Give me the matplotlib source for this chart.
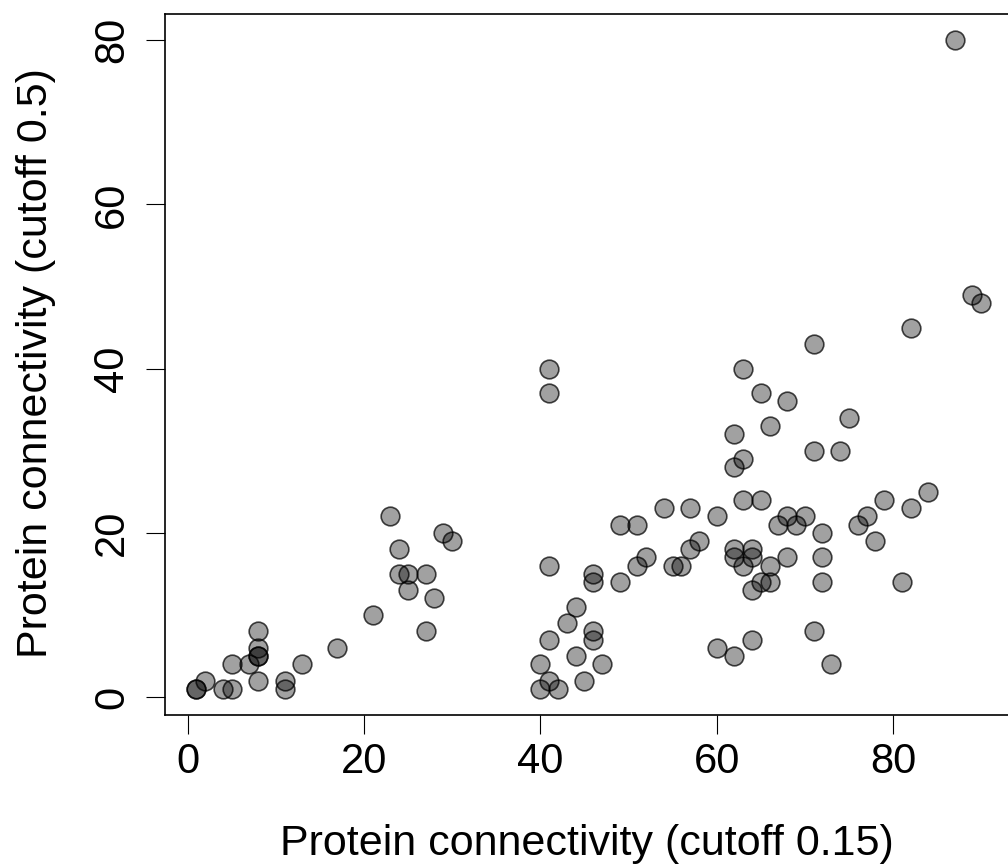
import matplotlib
matplotlib.use("Agg")
import matplotlib.pyplot as plt

plt.rcParams['font.family'] = ['Liberation Sans', 'DejaVu Sans']

x_cut015 = [1, 1, 2, 4, 5, 5, 7, 8, 8, 8, 8, 8, 11, 11, 13, 17, 21, 23, 24, 24,
            25, 25, 27, 28, 27, 29, 30, 40, 40, 41, 41, 41, 41, 41, 42, 43, 44, 44,
            45, 46, 46, 46, 46, 47, 49, 49, 51, 51, 52, 54, 55, 56, 57, 57, 58, 60,
            60, 62, 62, 62, 62, 62, 63, 63, 63, 63, 64, 64, 64, 64, 65, 65, 65, 66,
            66, 66, 67, 68, 68, 68, 69, 70, 71, 71, 71, 72, 72, 72, 73, 74, 75, 76,
            77, 78, 79, 81, 82, 82, 84, 87, 89, 90]
y_cut05 = [1, 1, 2, 1, 1, 4, 4, 8, 6, 5, 5, 2, 2, 1, 4, 6, 10, 22, 18, 15,
           15, 13, 15, 12, 8, 20, 19, 4, 1, 40, 37, 16, 7, 2, 1, 9, 11, 5,
           2, 15, 14, 8, 7, 4, 21, 14, 21, 16, 17, 23, 16, 16, 23, 18, 19, 22,
           6, 32, 28, 18, 17, 5, 40, 29, 24, 16, 18, 17, 13, 7, 37, 24, 14, 33,
           16, 14, 21, 36, 22, 17, 21, 22, 43, 30, 8, 20, 17, 14, 4, 30, 34, 21,
           22, 19, 24, 14, 45, 23, 25, 80, 49, 48]

x_ticks = [0, 20, 40, 60, 80]
y_ticks = [0, 20, 40, 60, 80]
x_label = "Protein connectivity (cutoff 0.15)"
y_label = "Protein connectivity (cutoff 0.5)"

W, H = 1008, 865
fig = plt.figure(figsize=(W / 100, H / 100), dpi=100)
left, right, top, bottom = 165, 1012.6, 14.3, 714.7
ax = fig.add_axes([left / W, (H - bottom) / H, (right - left) / W, (bottom - top) / H])

ax.scatter(x_cut015, y_cut05, s=180, facecolor=(0, 0, 0, 0.37),
           edgecolor=(0, 0, 0, 0.72), linewidths=1.2, zorder=3)

ax.set_xlim(-2.56, 93.56)
ax.set_ylim(-2.16, 83.16)
ax.set_xticks(x_ticks)
ax.set_yticks(y_ticks)
ax.set_xticklabels([str(v) for v in x_ticks])
ax.set_yticklabels([str(v) for v in y_ticks], rotation=90, va='center')
ax.tick_params(axis='both', direction='out', length=13.5, width=0.8,
               labelsize=30, colors='black')
ax.tick_params(axis='x', pad=6)
ax.tick_params(axis='y', pad=10)
for sp in ax.spines.values():
    sp.set_linewidth(1.2)

fig.text(587 / W, (H - 855) / H, x_label, fontsize=31, ha='center', va='baseline')
fig.text(47 / W, 1 - 363.5 / H, y_label, fontsize=31, rotation=90,
         rotation_mode='anchor', ha='center', va='baseline')

fig.savefig("out.png", dpi=100)
